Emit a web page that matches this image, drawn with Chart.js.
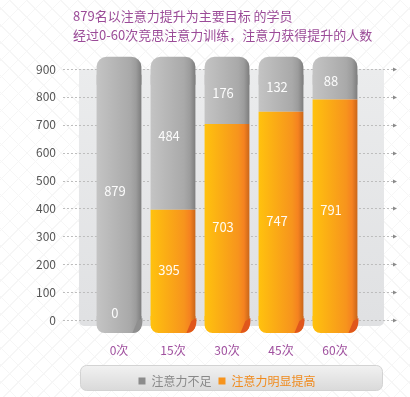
<!DOCTYPE html>
<html>
<head>
<meta charset="utf-8">
<script src="https://cdn.jsdelivr.net/npm/chart.js@4.4.0/dist/chart.umd.min.js"></script>
<style>
  html, body { margin: 0; padding: 0; background: #fff; }
  #wrap {
    position: relative; width: 410px; height: 397px;
    background:
      repeating-linear-gradient(45deg, transparent 0 11px, #f6f6f6 11px 12px),
      repeating-linear-gradient(-45deg, transparent 0 11px, #f6f6f6 11px 12px),
      #fff;
  }
  #title {
    position: absolute; left: 73px; top: 6px;
    font-family: "Noto Sans CJK SC", sans-serif; font-size: 13px; line-height: 19px;
    color: #9b4b98;
  }
  canvas { position: absolute; left: 0; top: 0; }
</style>
</head>
<body>
<div id="wrap">
  <canvas id="bar1" width="410" height="397"></canvas>
  <div id="title">879名以注意力提升为主要目标 的学员<br>经过0-60次竞思注意力训练，注意力获得提升的人数</div>
</div>
<script>
let names = ['0次', '15次', '30次', '45次', '60次'];
let seriesNames = ['注意力不足', '注意力明显提高'];
let improved = [0, 395, 703, 747, 791];
let notEnough = [879, 484, 176, 132, 88];
let yTicks = [0, 100, 200, 300, 400, 500, 600, 700, 800, 900];

let font = '"Noto Sans CJK SC", "Noto Sans", sans-serif';
let orangeStops = ['#ffc20e', '#f7941d', '#f58220', '#c9661a'];
let greyStops = ['#c4c4c4', '#a9a9a9', '#9c9c9c', '#7d7d7d'];

function makeGradient(c, x, w, colors) {
    let g = c.createLinearGradient(x - w / 2, 0, x + w / 2, 0);
    g.addColorStop(0, colors[0]);
    g.addColorStop(0.75, colors[1]);
    g.addColorStop(0.88, colors[2]);
    g.addColorStop(1, colors[3]);
    return g;
}

function barGradient(ctx, colors) {
    let chart = ctx.chart;
    let xs = chart.scales && chart.scales.x;
    if (!chart.chartArea || !xs) return colors[1];
    let x = xs.getPixelForValue(ctx.dataIndex);
    let w = (xs.width / names.length) * 0.83;
    if (!isFinite(x) || !isFinite(w)) return colors[1];
    return makeGradient(chart.ctx, x, w, colors);
}

// panel behind the bars + dashed grid with arrow heads
let panelPlugin = {
    id: 'panel',
    beforeDatasetsDraw(chart) {
        let {ctx, chartArea: a, scales: {y}} = chart;
        ctx.save();
        let g = ctx.createLinearGradient(0, a.top, 0, a.bottom);
        g.addColorStop(0, '#ebeced');
        g.addColorStop(1, '#e0e1e3');
        ctx.fillStyle = g;
        ctx.beginPath();
        ctx.roundRect(a.left - 13, a.top, a.right - a.left + 35, a.bottom - a.top + 6, [0, 0, 5, 5]);
        ctx.fill();
        ctx.strokeStyle = '#bdbdbd';
        ctx.lineWidth = 1;
        ctx.setLineDash([2, 2]);
        yTicks.forEach(v => {
            let py = Math.round(y.getPixelForValue(v)) + 0.5;
            ctx.beginPath();
            ctx.moveTo(a.left - 29, py);
            ctx.lineTo(a.right + 31, py);
            ctx.stroke();
        });
        ctx.setLineDash([]);
        ctx.fillStyle = '#8a8a8a';
        yTicks.forEach(v => {
            let py = Math.round(y.getPixelForValue(v)) + 0.5;
            ctx.beginPath();
            ctx.moveTo(a.right + 31, py - 2);
            ctx.lineTo(a.right + 35, py);
            ctx.lineTo(a.right + 31, py + 2);
            ctx.fill();
        });
        ctx.restore();
    }
};

// rounded cap above and curl below each column, then the white values
let valuePlugin = {
    id: 'values',
    afterDatasetsDraw(chart) {
        let ctx = chart.ctx;
        let low = chart.getDatasetMeta(0).data;
        let high = chart.getDatasetMeta(1).data;
        ctx.save();
        high.forEach((bar, i) => {
            let w = bar.width;
            // top cap
            ctx.fillStyle = makeGradient(ctx, bar.x, w, greyStops);
            ctx.beginPath();
            ctx.roundRect(bar.x - w / 2, bar.y - 18, w, 28, [10, 10, 0, 0]);
            ctx.fill();
            // bottom curl
            let base = low[i].base;
            let stops = improved[i] > 0 ? orangeStops : greyStops;
            ctx.fillStyle = makeGradient(ctx, bar.x, w, stops);
            ctx.beginPath();
            ctx.roundRect(bar.x - w / 2, base - 4, w, 17, [0, 0, 8, 8]);
            ctx.fill();
            ctx.fillStyle = improved[i] > 0 ? '#e0561c' : '#8f8f8f';
            ctx.beginPath();
            ctx.moveTo(bar.x + w / 2 - 9, base + 13);
            ctx.quadraticCurveTo(bar.x + w / 2 + 2, base + 12, bar.x + w / 2 + 1, base - 2);
            ctx.lineTo(bar.x + w / 2 - 4, base + 1);
            ctx.closePath();
            ctx.fill();
        });
        ctx.font = '13px ' + font;
        ctx.fillStyle = 'rgba(255,255,255,0.95)';
        ctx.textAlign = 'center';
        ctx.textBaseline = 'middle';
        chart.data.datasets.forEach((ds, di) => {
            chart.getDatasetMeta(di).data.forEach((bar, i) => {
                let v = ds.data[i];
                let cx = bar.x - 4;
                let cy = v === 0 ? bar.base - 7 : (bar.y + bar.base) / 2;
                if (di === 1) cy -= 6;
                else if (v > 0 && v < 750) cy += 5;
                ctx.fillText(v, cx, cy);
            });
        });
        ctx.restore();
    }
};

// rounded grey box behind the legend
let legendBoxPlugin = {
    id: 'legendBox',
    beforeDraw(chart) {
        let l = chart.legend;
        if (!l || !chart.chartArea) return;
        let ctx = chart.ctx;
        let x0 = chart.chartArea.left - 12, x1 = chart.chartArea.right + 20;
        let y0 = l.top - 3, h = 25;
        ctx.save();
        let g = ctx.createLinearGradient(0, y0, 0, y0 + h);
        g.addColorStop(0, '#f2f2f2');
        g.addColorStop(1, '#dadada');
        ctx.fillStyle = g;
        ctx.strokeStyle = '#d3d3d3';
        ctx.beginPath();
        ctx.roundRect(x0 + 0.5, y0 + 0.5, x1 - x0, h, 6);
        ctx.fill();
        ctx.stroke();
        ctx.restore();
    }
};

new Chart(document.getElementById('bar1'), {
    type: 'bar',
    data: {
        labels: names,
        datasets: [
            {
                label: seriesNames[1],
                data: improved,
                backgroundColor: ctx => barGradient(ctx, orangeStops),
                borderWidth: 0,
                barPercentage: 0.83,
                categoryPercentage: 1,
                stack: 's'
            },
            {
                label: seriesNames[0],
                data: notEnough,
                backgroundColor: ctx => barGradient(ctx, greyStops),
                borderWidth: 0,
                barPercentage: 0.83,
                categoryPercentage: 1,
                stack: 's'
            }
        ]
    },
    options: {
        responsive: false,
        animation: false,
        layout: {padding: {top: 69, left: 0, right: 48, bottom: 0}},
        scales: {
            x: {
                stacked: true,
                grid: {display: false, drawTicks: false},
                border: {display: false},
                ticks: {color: '#a0509f', font: {size: 12, family: font, lineHeight: 1}, padding: 24},
                afterFit(scale) { scale.height = 48; }
            },
            y: {
                stacked: true,
                min: 0,
                max: 900,
                grid: {display: false, drawTicks: false},
                border: {display: false},
                ticks: {stepSize: 100, color: '#555', font: {size: 12, family: font}, padding: 36}
            }
        },
        plugins: {
            legend: {
                display: true,
                position: 'bottom',
                fullSize: false,
                reverse: true,
                labels: {
                    boxWidth: 7,
                    boxHeight: 7,
                    padding: 7,
                    font: {size: 12, family: font},
                    generateLabels(chart) {
                        let cols = ['#f7941d', '#8c8c8c'];
                        return chart.data.datasets.map((d, i) => ({
                            text: d.label,
                            fillStyle: cols[i],
                            strokeStyle: cols[i],
                            lineWidth: 0,
                            fontColor: i === 0 ? '#f08a1c' : '#888',
                            datasetIndex: i,
                            hidden: false
                        }));
                    }
                }
            },
            tooltip: {enabled: false}
        }
    },
    plugins: [panelPlugin, valuePlugin, legendBoxPlugin]
});
</script>
</body>
</html>
